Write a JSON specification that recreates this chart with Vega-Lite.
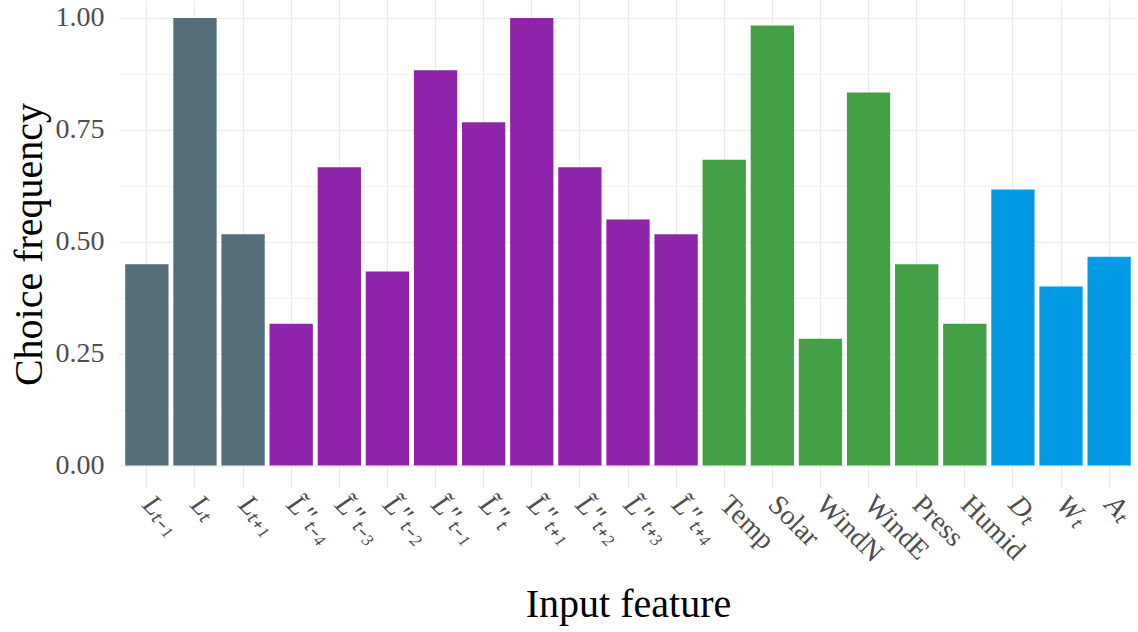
{
  "$schema": "https://vega.github.io/schema/vega-lite/v6.json",
  "autosize": "none",
  "width": 1020,
  "height": 488,
  "padding": {"left": 118, "top": 0, "right": 0, "bottom": 144},
  "background": "white",
  "config": {"view": {"stroke": null}, "font": "Liberation Serif"},
  "data": {"values": [
    {"feature": "Lₜ₋₁", "group": "load", "freq": 0.45},
    {"feature": "Lₜ", "group": "load", "freq": 1.0},
    {"feature": "Lₜ₊₁", "group": "load", "freq": 0.5167},
    {"feature": "L̃″ₜ₋₄", "group": "resid", "freq": 0.3167},
    {"feature": "L̃″ₜ₋₃", "group": "resid", "freq": 0.6667},
    {"feature": "L̃″ₜ₋₂", "group": "resid", "freq": 0.4333},
    {"feature": "L̃″ₜ₋₁", "group": "resid", "freq": 0.8833},
    {"feature": "L̃″ₜ", "group": "resid", "freq": 0.7667},
    {"feature": "L̃″ₜ₊₁", "group": "resid", "freq": 1.0},
    {"feature": "L̃″ₜ₊₂", "group": "resid", "freq": 0.6667},
    {"feature": "L̃″ₜ₊₃", "group": "resid", "freq": 0.55},
    {"feature": "L̃″ₜ₊₄", "group": "resid", "freq": 0.5167},
    {"feature": "Temp", "group": "weather", "freq": 0.6833},
    {"feature": "Solar", "group": "weather", "freq": 0.9833},
    {"feature": "WindN", "group": "weather", "freq": 0.2833},
    {"feature": "WindE", "group": "weather", "freq": 0.8333},
    {"feature": "Press", "group": "weather", "freq": 0.45},
    {"feature": "Humid", "group": "weather", "freq": 0.3167},
    {"feature": "Dₜ", "group": "calendar", "freq": 0.6167},
    {"feature": "Wₜ", "group": "calendar", "freq": 0.4},
    {"feature": "Aₜ", "group": "calendar", "freq": 0.4667}
  ]},
  "mark": {"type": "bar"},
  "encoding": {
    "x": {
      "field": "feature", "type": "nominal", "sort": null,
      "scale": {"paddingInner": 0.1, "paddingOuter": 0.15},
      "axis": {
        "title": "Input feature", "titleFontSize": 40, "titleFontWeight": "normal", "titleColor": "black",
        "titlePadding": 17, "titleFont": "Liberation Serif",
        "labelAngle": 45, "labelAlign": "left", "labelBaseline": "middle",
        "labelFontSize": 28, "labelColor": "#4d4d4d", "labelPadding": 12,
        "labelFontStyle": {"condition": {"test": "indexof(['Temp','Solar','WindN','WindE','Press','Humid'], datum.value) >= 0", "value": "normal"}, "value": "italic"},
        "ticks": false, "domain": false, "grid": true, "gridColor": "#ebebeb", "gridWidth": 1.1,
        "bandPosition": 0.5
      }
    },
    "y": {
      "field": "freq", "type": "quantitative",
      "scale": {"domain": [-0.05, 1.04], "nice": false, "zero": false},
      "axis": {
        "title": "Choice frequency", "titleFontSize": 40, "titleFontWeight": "normal", "titleColor": "black",
        "titlePadding": 6, "titleFont": "Liberation Serif",
        "values": [0, 0.125, 0.25, 0.375, 0.5, 0.625, 0.75, 0.875, 1.0],
        "labelExpr": "(datum.value * 100) % 25 == 0 ? format(datum.value, '.2f') : ''",
        "labelFontSize": 28, "labelColor": "#4d4d4d", "labelPadding": 14,
        "ticks": false, "domain": false, "grid": true,
        "gridColor": {"condition": {"test": "(datum.value * 100) % 25 == 0", "value": "#ebebeb"}, "value": "#f3f3f3"},
        "gridWidth": 1.1
      }
    },
    "color": {
      "field": "group", "type": "nominal", "legend": null,
      "scale": {"domain": ["load", "resid", "weather", "calendar"], "range": ["#546E7A", "#8E24AA", "#43A047", "#039BE5"]}
    }
  }
}
